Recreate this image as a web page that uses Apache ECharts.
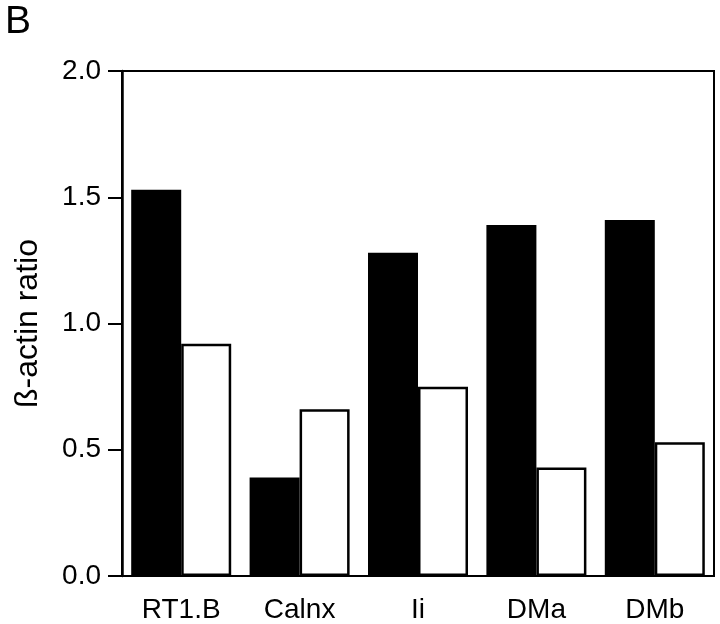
<!DOCTYPE html>
<html>
<head>
<meta charset="utf-8">
<script src="https://cdn.jsdelivr.net/npm/echarts@6/dist/echarts.min.js"></script>
<style>
	html, body { margin: 0; padding: 0; background: #fff; }
	#chart { width: 720px; height: 624px; }
</style>
</head>
<body>
<div id="chart"></div>
<script>
	// categories and values
	const categories = ['RT1.B', 'Calnx', 'Ii', 'DMa', 'DMb'];
	const blackValues = [1.53, 0.39, 1.28, 1.39, 1.41];
	const whiteValues = [0.92, 0.66, 0.75, 0.43, 0.53];
	const yTicks = { min: 0, max: 2.0, interval: 0.5 };

	const font = '"Liberation Sans", Arial, Helvetica, sans-serif';

	let chart = echarts.init(document.getElementById('chart'));
	const option = {
		animation: false,
		backgroundColor: '#fff',
		title: {
			text: 'B',
			left: 0,
			top: -2,
			textStyle: { fontFamily: font, fontSize: 39, fontWeight: 'normal', color: '#000' }
		},
		grid: {
			left: 122,
			right: 6,
			top: 71,
			bottom: 48,
			show: true,
			borderColor: '#000',
			borderWidth: 2
		},
		xAxis: {
			type: 'category',
			data: categories,
			axisLine: { lineStyle: { color: '#000', width: 2 } },
			axisTick: { show: false },
			axisLabel: { color: '#000', fontFamily: font, fontSize: 28, margin: 20 }
		},
		yAxis: {
			type: 'value',
			min: yTicks.min,
			max: yTicks.max,
			interval: yTicks.interval,
			name: 'ß-actin ratio',
			nameLocation: 'middle',
			nameGap: 78,
			nameTextStyle: { color: '#000', fontFamily: font, fontSize: 32 },
			axisLine: { show: true, lineStyle: { color: '#000', width: 2.5 } },
			axisTick: { show: true, length: 14, lineStyle: { color: '#000', width: 2 } },
			axisLabel: {
				color: '#000', fontFamily: font, fontSize: 28, margin: 21,
				formatter: v => v.toFixed(1)
			},
			splitLine: { show: false }
		},
		series: [
			{
				type: 'bar',
				data: blackValues,
				barWidth: 50,
				barGap: '0%',
				itemStyle: { color: '#000' }
			},
			{
				type: 'bar',
				data: whiteValues,
				barWidth: 50,
				itemStyle: { color: '#fff', borderColor: '#000', borderWidth: 2.5 }
			}
		]
	};
	chart.setOption(option);
</script>
</body>
</html>
